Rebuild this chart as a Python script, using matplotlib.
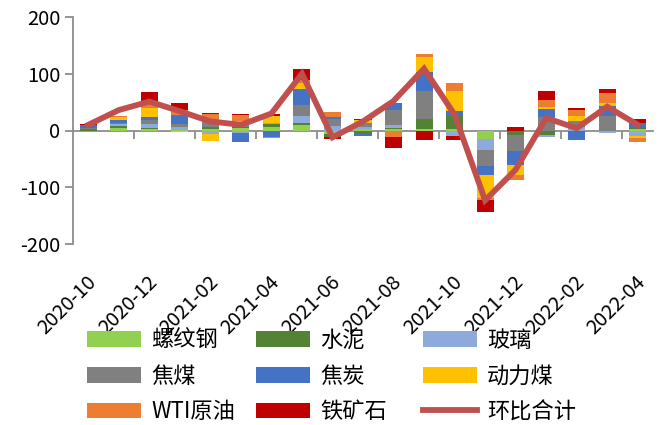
import matplotlib
matplotlib.use("Agg")
import matplotlib.pyplot as plt
import matplotlib.transforms as mtransforms
import numpy as np

plt.rcParams['font.family'] = ['Noto Sans CJK SC', 'DejaVu Sans']
plt.rcParams['axes.unicode_minus'] = False

months = ["2020-10", "2020-11", "2020-12", "2021-01", "2021-02", "2021-03",
          "2021-04", "2021-05", "2021-06", "2021-07", "2021-08", "2021-09",
          "2021-10", "2021-11", "2021-12", "2022-01", "2022-02", "2022-03",
          "2022-04"]

rebar = [0, 5, 2, 1, 3, 5, 6, 9, -7, 3, 2, 3, 3, -15, 0, 0, 0, 0, 2]
cement = [3, 3, 2, 0, 4, 2, 5, 4, -5, -6, 2, 17, 24, 0, -8, -8, -2, 0, 2]
glass = [0, 3, 7, 5, -7, -5, 3, 12, 8, 4, 6, 1, -10, -19, 0, -3, 6, -5, -9]
coking_coal = [1, 3, 7, 5, 8, 4, 0, 20, 13, 6, 26, 49, 0, -29, -29, 23, 10, 25, 0]
coke = [5, 5, 6, 16, 2, -15, -11, 28, 3, -3, 12, 33, 8, -16, -23, 15, -14, 19, 10]
thermal_coal = [0, 4, 15, -3, -11, 6, 12, 10, 0, 5, 0, 26, 34, -40, -18, 3, 10, 5, -5]
wti = [0, 3, 11, 10, 12, 10, -2, 6, 9, 0, -11, 5, 14, -4, -9, 13, 10, 17, -6]
iron_ore = [2, 0, 17, 11, 2, 2, 3, 20, -3, 2, -20, -16, -6, -21, 7, 16, 3, 7, 6]
mom_total = [10, 36, 51, 34, 16, 10, 30, 100, -12, 16, 52, 109, 28, -123, -69, 22, 4, 42, 10]

series_names = ["螺纹钢", "水泥", "玻璃", "焦煤", "焦炭", "动力煤", "WTI原油", "铁矿石"]
series_values = [rebar, cement, glass, coking_coal, coke, thermal_coal, wti, iron_ore]
series_colors = ["#92D050", "#548235", "#8EA9DB", "#808080", "#4472C4",
                 "#FFC000", "#ED7D31", "#C00000"]
line_name = "环比合计"
line_color = "#C0504D"

W, H = 658, 425
fig = plt.figure(figsize=(W / 100, H / 100), dpi=100)
ax_l, ax_r, ax_t, ax_b = 73, 653, 17, 244
ax = fig.add_axes([ax_l / W, 1 - ax_b / H, (ax_r - ax_l) / W, (ax_b - ax_t) / H])

x = np.arange(len(months))
pos_base = np.zeros(len(months))
neg_base = np.zeros(len(months))
bar_handles = []
for name, vals, color in zip(series_names, series_values, series_colors):
    v = np.asarray(vals, dtype=float)
    bottom = np.where(v >= 0, pos_base, neg_base)
    h = ax.bar(x, v, width=0.56, bottom=bottom, color=color, label=name,
               linewidth=0, zorder=2)
    bar_handles.append(h)
    pos_base += np.where(v >= 0, v, 0)
    neg_base += np.where(v < 0, v, 0)

line_handle, = ax.plot(x, mom_total, color=line_color, linewidth=4.2,
                       solid_joinstyle="miter", label=line_name, zorder=3)

axis_gray = "#8C8C8C"
ax.set_xlim(-0.5, len(months) - 0.5)
ax.set_ylim(-200, 200)
ax.set_yticks([-200, -100, 0, 100, 200])
ax.tick_params(axis="y", direction="out", length=6, width=1.3, color=axis_gray,
               labelsize=14.5, pad=3)
for s in ("top", "right"):
    ax.spines[s].set_visible(False)
ax.spines["left"].set_color(axis_gray)
ax.spines["left"].set_linewidth(1.3)
ax.spines["bottom"].set_position(("data", 0))
ax.spines["bottom"].set_color(axis_gray)
ax.spines["bottom"].set_linewidth(1.3)
ax.spines["bottom"].set_zorder(1)

# category-boundary ticks every two months, labels drawn below the plot
ax.set_xticks(np.arange(1.5, len(months) - 0.5, 2))
ax.set_xticklabels([])
ax.tick_params(axis="x", direction="out", length=6, width=1.3, color=axis_gray)

label_tf = mtransforms.blended_transform_factory(ax.transData, ax.transAxes) + \
    mtransforms.ScaledTranslation(0.05, -0.35, fig.dpi_scale_trans)
for i in range(0, len(months), 2):
    ax.text(i, 0, months[i], transform=label_tf, rotation=45, ha="right",
            va="center", rotation_mode="anchor", fontsize=14.5, clip_on=False)

# legend laid out as three columns
handles = bar_handles + [line_handle]
labels = series_names + [line_name]
col_x = [87, 256, 423]
for c in range(3):
    idx = [c, c + 3, c + 6]
    fig.legend([handles[i] for i in idx], [labels[i] for i in idx],
               loc="upper left", bbox_to_anchor=(col_x[c] / W, 1 - 329 / H),
               frameon=False, fontsize=16, handlelength=2.43, handleheight=0.72,
               handletextpad=0.45, labelspacing=0.57, borderpad=0,
               borderaxespad=0)

fig.savefig("out.png", dpi=100)
